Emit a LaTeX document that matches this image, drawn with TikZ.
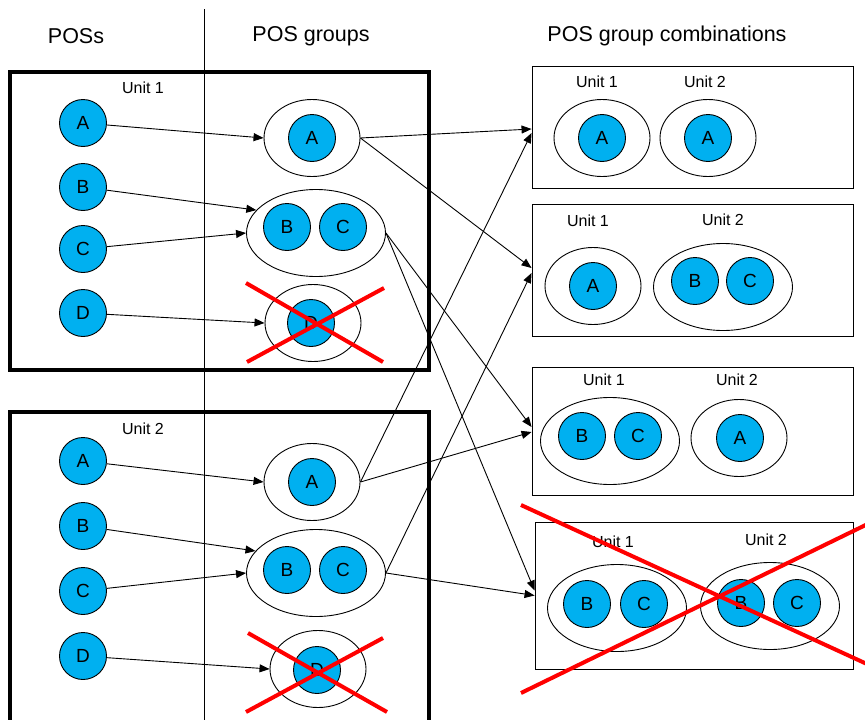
\documentclass[tikz,border=0pt]{standalone}
\usepackage{fontspec}
\setmainfont{Liberation Sans}
\usetikzlibrary{calc,shapes.geometric,arrows.meta}
\definecolor{posblue}{HTML}{00B0F0}
\definecolor{crossred}{HTML}{FF0000}
\tikzset{
	posdot/.style={circle, draw, line width=0.9pt, fill=posblue, minimum size=47pt, inner sep=0pt, font=\fontsize{19}{19}\selectfont},
	grp/.style={ellipse, draw, line width=0.9pt, minimum width=96pt, minimum height=77pt, inner sep=0pt},
	grpwide/.style={grp, minimum width=139pt, minimum height=87pt},
	combo/.style={rectangle, draw, line width=0.9pt, inner sep=0pt},
	unitbox/.style={draw, line width=4pt},
	lbl/.style={font=\fontsize{16}{16}\selectfont},
	heading/.style={font=\fontsize{21.5}{21.5}\selectfont},
	arr/.style={line width=0.9pt, -{Triangle[length=10pt,width=8pt]}},
	cross/.style={line width=4pt, color=crossred},
}
\begin{document}
\begin{tikzpicture}[x=1pt, y=-1pt]
			%%%%% START %%%%%
			\clip (0, 0) rectangle (865, 720);
			
			\node[heading] (tpos) at (76, 36) {POSs};
			\node[heading] (tgrp) at (311, 36) {POS groups};
			\node[heading] (tcomb) at (667, 36) {POS group combinations};
			\draw[line width=0.9pt] (204, 9) -- (204, 725);
			
			\draw[unitbox] (10, 72) rectangle (429, 370);
			\draw[unitbox] (10, 412) rectangle (429, 740);
			\node[lbl] (lu1) at (143, 88) {Unit 1};
			\node[lbl] (lu2) at (143, 429) {Unit 2};
			
			\node[posdot] (u1a) at (83, 123) {A};
			\node[posdot] (u1b) at (83, 187) {B};
			\node[posdot] (u1c) at (83, 249) {C};
			\node[posdot] (u1d) at (83, 313) {D};
			\node[posdot] (u2a) at (83, 461) {A};
			\node[posdot] (u2b) at (83, 526) {B};
			\node[posdot] (u2c) at (83, 591) {C};
			\node[posdot] (u2d) at (83, 656) {D};
			
			\node[grp] (g1a) at (312, 138) {};
			\node[posdot] (g1aA) at (312, 138) {A};
			\node[grpwide] (g1bc) at (316, 233) {};
			\node[posdot] (g1bcB) at (287, 227) {B};
			\node[posdot] (g1bcC) at (343, 227) {C};
			\node[grp] (g1d) at (313, 323) {};
			\node[posdot] (g1dD) at (311, 323) {D};
			
			\node[grp] (g2a) at (312, 482) {};
			\node[posdot] (g2aA) at (312, 482) {A};
			\node[grpwide] (g2bc) at (316, 573) {};
			\node[posdot] (g2bcB) at (287, 570) {B};
			\node[posdot] (g2bcC) at (343, 570) {C};
			\node[grp] (g2d) at (318, 669) {};
			\node[posdot] (g2dD) at (317, 670) {D};
			
			\draw[arr] (u1a) -- (g1a.180);
			\draw[arr] (u1b) -- (g1bc.159);
			\draw[arr] (u1c) -- (g1bc.180);
			\draw[arr] (u1d) -- (g1d.180);
			\draw[arr] (u2a) -- (g2a.180);
			\draw[arr] (u2b) -- (g2bc.160);
			\draw[arr] (u2c) -- (g2bc.180);
			\draw[arr] (u2d) -- (g2d.180);
			
			\node[combo, minimum width=321pt, minimum height=122pt] (box1) at (692.5, 127) {};
			\node[lbl] (l11) at (597, 82) {Unit 1};
			\node[lbl] (l12) at (705, 82) {Unit 2};
			\node[grp] (e11) at (602, 138) {};
			\node[posdot] (e11A) at (602, 138) {A};
			\node[grp] (e12) at (708, 138) {};
			\node[posdot] (e12A) at (708, 138) {A};
			
			\node[combo, minimum width=321pt, minimum height=132pt] (box2) at (692.5, 270) {};
			\node[lbl] (l21) at (588, 221) {Unit 1};
			\node[lbl] (l22) at (723, 220) {Unit 2};
			\node[grp] (e21) at (593, 286) {};
			\node[posdot] (e21A) at (593, 286) {A};
			\node[grpwide] (e22) at (723, 287) {};
			\node[posdot] (e22B) at (695, 281) {B};
			\node[posdot] (e22C) at (750, 281) {C};
			
			\node[combo, minimum width=321pt, minimum height=128pt] (box3) at (692.5, 431) {};
			\node[lbl] (l31) at (604, 380) {Unit 1};
			\node[lbl] (l32) at (737, 380) {Unit 2};
			\node[grpwide] (e31) at (610, 441) {};
			\node[posdot] (e31B) at (582, 436) {B};
			\node[posdot] (e31C) at (638, 436) {C};
			\node[grp] (e32) at (739, 438) {};
			\node[posdot] (e32A) at (740, 438) {A};
			
			\node[combo, minimum width=318pt, minimum height=147pt] (box4) at (694, 595.5) {};
			\node[lbl] (l41) at (613, 542) {Unit 1};
			\node[lbl] (l42) at (766, 540) {Unit 2};
			\node[grpwide] (e41) at (617, 608) {};
			\node[posdot] (e41B) at (587, 604) {B};
			\node[posdot] (e41C) at (644, 604) {C};
			\node[grpwide] (e42) at (770, 606) {};
			\node[posdot] (e42B) at (741, 603) {B};
			\node[posdot] (e42C) at (797, 603) {C};
			
			\draw[arr] (g1a.east) -- ($(box1.west)+(0, 2)$);
			\draw[arr] (g1a.east) -- ($(box2.west)+(0, -2)$);
			\draw[arr] (g1bc.east) -- ($(box3.west)+(0, -4)$);
			\draw[arr] (g1bc.east) -- ($(box4.west)+(0, -5)$);
			\draw[arr] (g2a.east) -- ($(box1.west)+(0, 6)$);
			\draw[arr] (g2a.east) -- ($(box3.west)+(0, 1)$);
			\draw[arr] (g2bc.east) -- ($(box2.west)+(0, 3)$);
			\draw[arr] (g2bc.east) -- ($(box4.west)+(0, 0)$);
			
			\draw[cross] (246, 283) -- (383, 362);
			\draw[cross] (247, 362) -- (384, 288);
			\draw[cross] (248, 633) -- (387, 712);
			\draw[cross] (246, 712) -- (383, 638);
			\draw[cross] (521, 505) -- (880, 670);
			\draw[cross] (521, 693) -- (880, 518);
			%%%%% END %%%%%
\end{tikzpicture}
\end{document}
